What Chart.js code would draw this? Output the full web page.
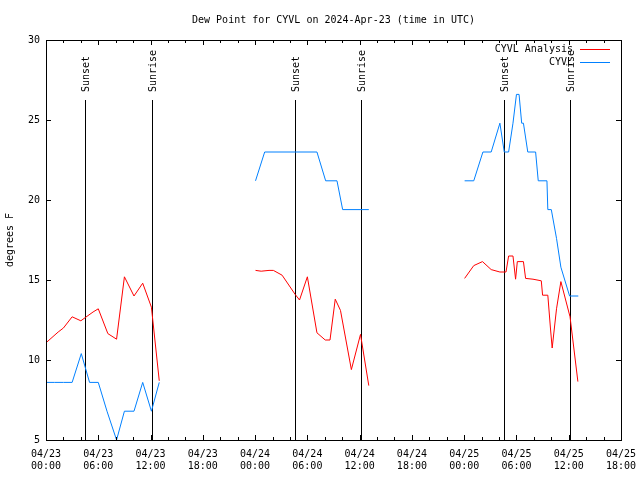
<!DOCTYPE html>
<html>
<head>
<meta charset="utf-8">
<script src="https://cdn.jsdelivr.net/npm/chart.js@4/dist/chart.umd.min.js"></script>
<style>
  body { margin: 0; background: #fff; }
</style>
</head>
<body>
<canvas id="chart" width="640" height="480"></canvas>
<script>
// Hours since 04/23 00:00 UTC; null breaks the line between days
const analysisHours = [0.05, 1.4, 2.0, 3.0, 4.0, 4.5, 5.4, 6.0, 7.1, 8.1, 9.0, 10.1, 11.1, 12.1, 13.0,
    18,
    24.05, 24.7, 25.6, 26.1, 27.1, 28.6, 29.1, 30.0, 31.1, 32.05, 32.6, 33.2, 33.8, 35.05, 36.1, 37.05,
    42,
    48.05, 49.1, 50.1, 51.1, 52.1, 52.8, 53.1, 53.6, 53.9, 54.1, 54.8, 55.05, 55.9, 56.85, 57.0, 57.6, 57.9, 58.1, 58.6, 59.1, 60.15, 61.05];
const analysisDew = [11.1, 11.75, 12.0, 12.7, 12.45, 12.65, 13.0, 13.2, 11.65, 11.3, 15.2, 14.0, 14.8, 13.3, 8.7,
    null,
    15.6, 15.55, 15.6, 15.6, 15.3, 14.1, 13.75, 15.2, 11.7, 11.25, 11.25, 13.8, 13.1, 9.4, 11.6, 8.4,
    null,
    15.1, 15.9, 16.15, 15.65, 15.5, 15.5, 16.5, 16.5, 15.05, 16.15, 16.15, 15.1, 15.05, 14.95, 14.05, 14.05, 12.0, 10.75, 13.2, 14.9, 12.7, 8.65];

const obsHours = [0.05, 1.0, 2.0, 3.0, 4.05, 5.0, 6.0, 7.0, 8.1, 9.0, 10.1, 11.1, 12.1, 13.0,
    18,
    24.05, 25.1, 31.1, 32.1, 33.4, 34.05, 37.05,
    42,
    48.05, 49.1, 50.15, 51.1, 52.1, 52.6, 53.1, 53.6, 54.0, 54.3, 54.6, 54.8, 55.3, 56.2, 56.5, 57.5, 57.6, 58.0, 58.6, 59.1, 60.1, 61.1];
const obsDew = [8.6, 8.6, 8.6, 8.6, 10.4, 8.6, 8.6, 6.8, 5.0, 6.8, 6.8, 8.6, 6.8, 8.6,
    null,
    21.2, 23.0, 23.0, 21.2, 21.2, 19.4, 19.4,
    null,
    21.2, 21.2, 23.0, 23.0, 24.8, 23.0, 23.0, 24.8, 26.6, 26.6, 24.8, 24.8, 23.0, 23.0, 21.2, 21.2, 19.4, 19.4, 17.6, 15.8, 14.0, 14.0];

const sunsetHours = [4.5, 28.6, 52.6];
const sunriseHours = [12.2, 36.2, 60.1];
const sunLineTop = 26.25; // degrees F where the marker lines start

const xTickDates = ['04/23', '04/23', '04/23', '04/23', '04/24', '04/24', '04/24', '04/24', '04/25', '04/25', '04/25', '04/25'];
const xTickTimes = ['00:00', '06:00', '12:00', '18:00', '00:00', '06:00', '12:00', '18:00', '00:00', '06:00', '12:00', '18:00'];

const titleText = 'Dew Point for CYVL on 2024-Apr-23 (time in UTC)';
const FONT = '10px "DejaVu Sans Mono"';

Chart.defaults.font.family = '"DejaVu Sans Mono", monospace';
Chart.defaults.font.size = 10;
Chart.defaults.color = '#000';

function toPoints(hours, values) {
    return hours.map((h, i) => ({ x: h, y: values[i] }));
}

// gnuplot look: boxed frame, inward ticks, sun markers, title and legend
const gnuplotFrame = {
    id: 'gnuplotFrame',
    beforeDatasetsDraw(chart) {
        const { ctx, chartArea, scales } = chart;
        const yTop = scales.y.getPixelForValue(sunLineTop);
        ctx.save();
        ctx.strokeStyle = '#000';
        ctx.fillStyle = '#000';
        ctx.lineWidth = 1;
        ctx.font = FONT;
        const marks = sunsetHours.map(h => [h, 'Sunset']).concat(sunriseHours.map(h => [h, 'Sunrise']));
        marks.forEach(([h, label]) => {
            const x = Math.round(scales.x.getPixelForValue(h)) + 0.5;
            ctx.beginPath();
            ctx.moveTo(x, yTop);
            ctx.lineTo(x, chartArea.bottom);
            ctx.stroke();
            ctx.save();
            ctx.translate(x + 1, yTop - 8);
            ctx.rotate(-Math.PI / 2);
            ctx.textAlign = 'left';
            ctx.textBaseline = 'middle';
            ctx.fillText(label, 0, 0);
            ctx.restore();
        });
        ctx.restore();
    },
    afterDatasetsDraw(chart) {
        const { ctx, chartArea, scales } = chart;
        const { left, right, top, bottom } = chartArea;
        ctx.save();
        ctx.strokeStyle = '#000';
        ctx.lineWidth = 1;
        ctx.strokeRect(Math.round(left) + 0.5, Math.round(top) + 0.5, Math.round(right - left), Math.round(bottom - top));

        // x ticks: major every 6 h, minor every 2 h, on bottom and top
        ctx.beginPath();
        for (let h = scales.x.min; h <= scales.x.max; h += 2) {
            const x = Math.round(scales.x.getPixelForValue(h)) + 0.5;
            const len = h % 6 === 0 ? 5 : 3;
            ctx.moveTo(x, bottom);
            ctx.lineTo(x, bottom - len);
            ctx.moveTo(x, top);
            ctx.lineTo(x, top + len);
        }
        // y ticks on left and right
        scales.y.ticks.forEach(t => {
            const y = Math.round(scales.y.getPixelForValue(t.value)) + 0.5;
            ctx.moveTo(left, y);
            ctx.lineTo(left + 5, y);
            ctx.moveTo(right, y);
            ctx.lineTo(right - 5, y);
        });
        ctx.stroke();

        // title
        ctx.font = FONT;
        ctx.fillStyle = '#000';
        ctx.textAlign = 'center';
        ctx.textBaseline = 'middle';
        ctx.fillText(titleText, (left + right) / 2, 20);

        // legend, gnuplot style: text right aligned, sample line after it
        ctx.textAlign = 'right';
        chart.data.datasets.forEach((ds, i) => {
            const y = top + 9 + i * 13;
            ctx.fillStyle = '#000';
            ctx.fillText(ds.label, right - 48, y);
            ctx.strokeStyle = ds.borderColor;
            ctx.beginPath();
            ctx.moveTo(right - 41, Math.round(y) + 0.5);
            ctx.lineTo(right - 11, Math.round(y) + 0.5);
            ctx.stroke();
        });
        ctx.restore();
    }
};

new Chart(document.getElementById('chart'), {
    type: 'line',
    data: {
        datasets: [
            {
                label: 'CYVL Analysis',
                data: toPoints(analysisHours, analysisDew),
                borderColor: '#ff0000',
                borderWidth: 1,
                pointRadius: 0,
                tension: 0,
                spanGaps: false,
            },
            {
                label: 'CYVL',
                data: toPoints(obsHours, obsDew),
                borderColor: '#0080ff',
                borderWidth: 1,
                pointRadius: 0,
                tension: 0,
                spanGaps: false,
            },
        ],
    },
    options: {
        responsive: false,
        animation: false,
        layout: { padding: { top: 40, right: 19, left: 0, bottom: 0 } },
        plugins: {
            legend: { display: false },
            title: { display: false },
            tooltip: { enabled: false },
        },
        scales: {
            x: {
                type: 'linear',
                min: 0,
                max: 66,
                grid: { display: false, drawTicks: false },
                border: { display: false },
                ticks: {
                    stepSize: 6,
                    autoSkip: false,
                    maxRotation: 0,
                    padding: 8,
                    callback: (value, index) => [xTickDates[index], xTickTimes[index]],
                },
                afterFit: (scale) => {
                    scale.height = 40;
                    scale.paddingLeft = 0;
                    scale.paddingRight = 0;
                },
            },
            y: {
                min: 5,
                max: 30,
                grid: { display: false, drawTicks: false },
                border: { display: false },
                ticks: { stepSize: 5, padding: 6 },
                title: { display: true, text: 'degrees F', padding: { top: 4, bottom: 0 } },
                afterFit: (scale) => { scale.width = 46; },
            },
        },
    },
    plugins: [gnuplotFrame],
});
</script>
</body>
</html>
